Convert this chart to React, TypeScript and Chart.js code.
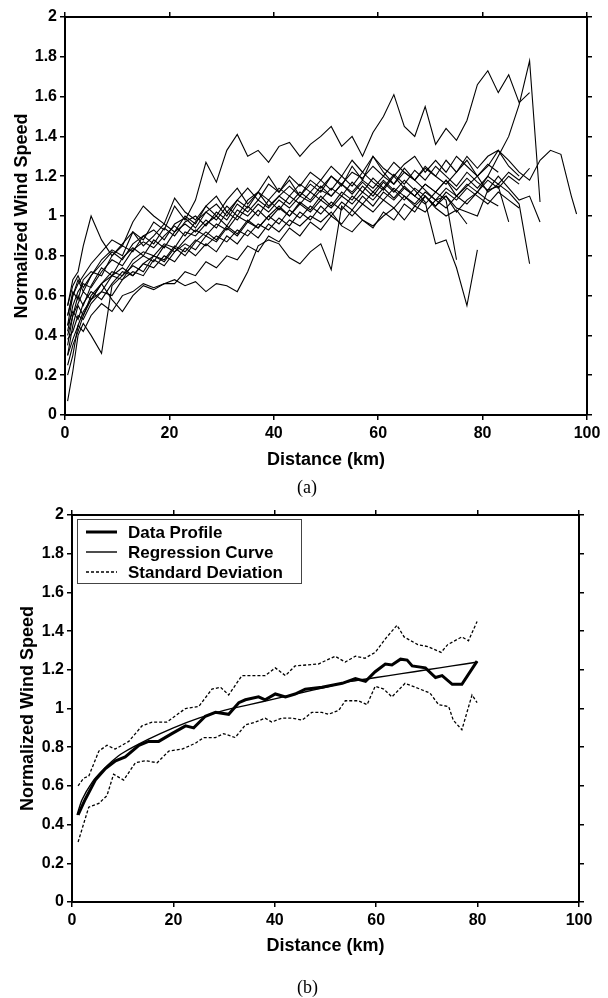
import React, { useEffect, useRef } from "react";
import { Chart, registerables } from "chart.js";

Chart.register(...registerables);

const SANS = "'Liberation Sans', Arial, Helvetica, sans-serif";

// ---------- Panel (a): individual normalized profiles ----------
const KM = [0.5, 1.5, 2.5, 3.5, 5, 7, 9, 11, 13, 15, 17, 19, 21, 23, 25, 27, 29, 31, 33, 35, 37, 39, 41, 43, 45, 47, 49, 51, 53, 55, 57, 59, 61, 63, 65, 67, 69, 71, 73, 75, 77, 79, 81, 83, 85, 87, 89, 91, 93, 95, 97, 98];

const P01 = [0.45, 0.6, 0.68, 0.62, 0.7, 0.78, 0.83, 0.8, 0.92, 0.88, 0.97, 0.93, 1.05, 0.98, 1.08, 1.27, 1.17, 1.33, 1.41, 1.3, 1.33, 1.27, 1.35, 1.37, 1.3, 1.36, 1.4, 1.45, 1.35, 1.4, 1.3, 1.42, 1.5, 1.61, 1.45, 1.4, 1.55, 1.36, 1.44, 1.38, 1.48, 1.66, 1.73, 1.62, 1.71, 1.57, 1.62];
const P02 = [0.3, 0.45, 0.55, 0.5, 0.6, 0.66, 0.72, 0.7, 0.78, 0.82, 0.8, 0.86, 0.84, 0.92, 0.9, 0.96, 1.0, 0.95, 1.03, 1.0, 1.06, 1.02, 1.08, 1.04, 1.1, 1.07, 1.13, 1.1, 1.16, 1.12, 1.18, 1.14, 1.2, 1.16, 1.22, 1.18, 1.13, 1.08, 1.1, 1.02, 1.08, 1.12, 1.2, 1.3, 1.4, 1.56, 1.78, 1.07];
const P03 = [0.42, 0.55, 0.62, 0.66, 0.64, 0.72, 0.78, 0.75, 0.83, 0.87, 0.84, 0.9, 0.95, 0.9, 0.97, 1.02, 0.98, 1.05, 1.0, 1.08, 1.12, 1.05, 1.1, 1.15, 1.1, 1.18, 1.14, 1.2, 1.16, 1.22, 1.19, 1.25, 1.2, 1.27, 1.22, 1.18, 1.24, 1.2, 1.16, 1.22, 1.28, 1.2, 1.25, 1.33, 1.28, 1.22, 1.18, 1.28, 1.33, 1.31, 1.1, 1.01];
const P04 = [0.2, 0.3, 0.45, 0.52, 0.58, 0.62, 0.7, 0.68, 0.76, 0.8, 0.77, 0.85, 0.82, 0.88, 0.93, 0.9, 0.96, 0.93, 1.0, 0.97, 1.03, 0.98, 1.04, 1.0, 1.07, 1.03, 1.1, 1.05, 1.12, 1.08, 1.15, 1.1, 1.17, 1.12, 1.18, 1.13, 1.07, 0.86, 0.88, 0.74, 0.55, 0.83];
const P05 = [0.5, 0.62, 0.58, 0.68, 0.72, 0.7, 0.8, 0.85, 0.82, 0.9, 0.93, 0.88, 0.96, 0.99, 0.94, 1.02, 1.06, 1.0, 1.08, 1.04, 1.12, 1.08, 1.14, 1.1, 1.16, 1.12, 1.18, 1.13, 1.2, 1.15, 1.22, 1.17, 1.13, 1.2, 1.14, 1.1, 1.16, 1.12, 1.18, 1.1, 1.15, 1.2, 1.12, 1.16, 1.12, 1.06, 0.76];
const P06 = [0.35, 0.5, 0.6, 0.55, 0.65, 0.74, 0.7, 0.79, 0.84, 0.8, 0.88, 0.84, 0.92, 0.96, 0.92, 0.98, 0.94, 1.02, 0.98, 1.05, 1.0, 1.08, 1.03, 1.1, 1.06, 1.12, 1.08, 1.14, 1.1, 1.17, 1.12, 1.19, 1.14, 1.21, 1.16, 1.23, 1.18, 1.25, 1.2, 1.15, 1.22, 1.17, 1.13, 1.2, 1.14, 1.08, 1.1, 0.97];
const P07 = [0.55, 0.65, 0.7, 0.64, 0.7, 0.76, 0.82, 0.78, 0.86, 0.9, 0.86, 0.94, 0.9, 0.97, 1.0, 0.95, 1.02, 0.98, 1.06, 1.02, 1.08, 1.04, 1.1, 1.06, 1.12, 1.08, 1.15, 1.1, 1.16, 1.11, 1.17, 1.12, 1.18, 1.13, 1.08, 1.14, 1.1, 1.05, 1.1, 1.04, 1.02, 1.0, 1.13, 1.15, 0.97];
const P08 = [0.38, 0.42, 0.5, 0.48, 0.56, 0.62, 0.6, 0.68, 0.72, 0.7, 0.78, 0.75, 0.82, 0.86, 0.83, 0.9, 0.87, 0.94, 0.9, 0.97, 0.94, 1.0, 0.96, 1.03, 0.99, 1.05, 1.01, 1.07, 1.03, 1.1, 1.06, 1.12, 1.08, 1.14, 1.1, 1.05, 1.1, 1.04, 1.0, 1.03, 0.96];
const P09 = [0.45, 0.52, 0.48, 0.56, 0.62, 0.58, 0.66, 0.72, 0.7, 0.76, 0.8, 0.77, 0.84, 0.8, 0.87, 0.92, 0.88, 0.95, 0.91, 0.98, 0.94, 1.0, 1.05, 1.0, 1.06, 1.02, 1.08, 1.04, 1.1, 1.06, 1.12, 1.08, 1.14, 1.09, 1.15, 1.1, 1.06, 1.12, 1.08, 0.78];
const P10 = [0.3, 0.38, 0.45, 0.42, 0.5, 0.56, 0.52, 0.6, 0.62, 0.66, 0.64, 0.66, 0.68, 0.65, 0.67, 0.62, 0.66, 0.65, 0.62, 0.72, 0.85, 0.88, 0.86, 0.79, 0.76, 0.82, 0.86, 0.73, 1.05, 1.0, 1.06, 1.02, 1.08, 1.04, 1.1, 1.06, 1.12, 1.08, 1.14, 1.1, 1.16, 1.12, 1.18, 1.14, 1.2, 1.16];
const P11 = [0.25, 0.35, 0.42, 0.5, 0.58, 0.66, 0.58, 0.52, 0.6, 0.65, 0.63, 0.66, 0.66, 0.72, 0.7, 0.77, 0.74, 0.8, 0.78, 0.85, 0.82, 0.9, 0.87, 0.94, 0.9, 0.97, 0.93, 1.0, 0.96, 1.03, 0.98, 0.95, 1.0, 1.04, 0.98, 1.05, 1.02, 1.08, 1.04, 1.1, 1.06, 1.12, 1.08, 1.05];
const P12 = [0.07, 0.22, 0.4, 0.46, 0.4, 0.31, 0.65, 0.7, 0.75, 0.72, 0.8, 0.78, 0.85, 0.82, 0.88, 0.85, 0.9, 0.87, 0.93, 0.9, 0.96, 0.93, 0.99, 0.95, 1.02, 0.98, 1.05, 1.0, 1.07, 1.03, 1.1, 1.05, 1.12, 1.08, 1.14, 1.1, 1.16, 1.12, 1.18, 1.13, 1.19, 1.14, 1.2, 1.16, 1.22, 1.18, 1.24];
const P13 = [0.55, 0.68, 0.72, 0.85, 1.0, 0.88, 0.8, 0.86, 0.92, 0.85, 0.9, 0.96, 0.92, 1.0, 0.96, 1.05, 1.1, 1.02, 1.08, 1.14, 1.08, 1.16, 1.12, 1.2, 1.15, 1.22, 1.18, 1.25, 1.2, 1.28, 1.22, 1.3, 1.24, 1.2, 1.26, 1.3, 1.22, 1.28, 1.22, 1.3, 1.25, 1.2, 1.26, 1.22];
const P14 = [0.5, 0.6, 0.66, 0.7, 0.76, 0.82, 0.88, 0.85, 0.97, 1.05, 1.0, 0.96, 1.09, 1.02, 0.98, 1.05, 1.0, 1.08, 1.14, 1.06, 1.12, 1.2, 1.12, 1.18, 1.1, 1.16, 1.12, 1.2, 1.15, 1.25, 1.18, 1.3, 1.22, 1.16, 1.24, 1.18, 1.25, 1.2, 1.28, 1.22, 1.3, 1.24, 1.3, 1.33, 1.25, 1.2];
const P15 = [0.4, 0.5, 0.56, 0.62, 0.58, 0.66, 0.7, 0.74, 0.7, 0.76, 0.74, 0.8, 0.77, 0.84, 0.8, 0.86, 0.82, 0.9, 0.86, 0.93, 0.89, 0.96, 0.92, 0.98, 0.95, 1.0, 0.97, 1.02, 0.95, 0.92, 0.98, 0.94, 1.02, 0.98, 1.06, 1.02, 1.1, 1.05, 1.12, 1.08, 1.14, 1.1, 1.06, 1.12, 1.08, 1.04];

const PROFILES = [P01, P02, P03, P04, P05, P06, P07, P08, P09, P10, P11, P12, P13, P14, P15];

// ---------- Panel (b): mean profile, regression, std deviation ----------
const PROFILE_KM = [1.2, 2.6, 4.6, 6.6, 8.6, 10.5, 13.2, 15.1, 17.1, 19.7, 22.4, 24, 26.3, 28.3, 30.9, 32.9, 34.2, 36.8, 38.1, 40.1, 42.1, 44, 46, 49.3, 51.3, 53.3, 55.9, 57.9, 59.8, 61.8, 63.1, 64.8, 66.1, 67.1, 69.7, 71.7, 73, 75, 76.9, 79.9];
const PROFILE_V = [0.45, 0.53, 0.63, 0.69, 0.73, 0.75, 0.81, 0.83, 0.83, 0.87, 0.91, 0.9, 0.96, 0.98, 0.97, 1.03, 1.045, 1.06, 1.045, 1.075, 1.06, 1.075, 1.1, 1.11, 1.12, 1.13, 1.155, 1.14, 1.19, 1.23, 1.225, 1.255, 1.25, 1.22, 1.21, 1.16, 1.17, 1.125, 1.125, 1.245];

const REG_KM = [1, 2, 4, 6, 8, 10, 15, 20, 25, 30, 35, 40, 45, 50, 55, 60, 65, 70, 75, 80];
const REG_V = [0.45, 0.53, 0.62, 0.68, 0.73, 0.77, 0.84, 0.9, 0.95, 0.99, 1.02, 1.05, 1.08, 1.11, 1.14, 1.16, 1.18, 1.2, 1.22, 1.24];

const SD_UP_KM = [1.2, 2.3, 3.3, 5.3, 6.9, 8.5, 11.2, 13.8, 15.8, 18.7, 22.4, 25, 27.6, 29.3, 30.9, 33.5, 35.5, 38.1, 40.1, 42.1, 44, 48.6, 51.9, 53.9, 55.9, 57.8, 59.8, 61.8, 64.1, 65.5, 68.2, 70.2, 72.8, 74.1, 76.9, 78.2, 79.9];
const SD_UP_V = [0.6, 0.64, 0.65, 0.78, 0.81, 0.79, 0.83, 0.91, 0.93, 0.93, 1.0, 1.01, 1.1, 1.11, 1.07, 1.17, 1.17, 1.17, 1.21, 1.17, 1.22, 1.23, 1.27, 1.24, 1.27, 1.26, 1.29, 1.36, 1.43, 1.37, 1.33, 1.32, 1.29, 1.33, 1.37, 1.35, 1.45];

const SD_LO_KM = [1.2, 3.3, 5.3, 6.9, 8.2, 10.2, 12.5, 14.5, 16.8, 19.1, 21.7, 24.3, 26, 28.3, 29.9, 32.2, 34.2, 36.2, 38.1, 39.4, 41.4, 43.4, 45.4, 47.3, 49.3, 50.6, 52.6, 53.9, 56.5, 58.2, 59.8, 61.5, 63.1, 65.7, 67.7, 70.6, 72.3, 74.3, 75.2, 76.9, 78.9, 79.9];
const SD_LO_V = [0.31, 0.49, 0.51, 0.55, 0.66, 0.63, 0.72, 0.73, 0.72, 0.78, 0.79, 0.82, 0.85, 0.85, 0.87, 0.85, 0.915, 0.93, 0.95, 0.93, 0.95, 0.95, 0.94, 0.98, 0.98, 0.97, 0.99, 1.04, 1.04, 1.02, 1.115, 1.1, 1.06, 1.13, 1.11, 1.08, 1.02, 1.01, 0.94, 0.89, 1.07, 1.03];

const X_TITLE = "Distance (km)";
const Y_TITLE = "Normalized Wind Speed";
const LEGEND_LABELS = ["Data Profile", "Regression Curve", "Standard Deviation"];

const pts = (xs: number[], ys: number[]) => ys.map((y, i) => ({ x: xs[i], y }));

type Frame = { left: number; right: number; top: number; bottom: number; yTitlePad: number; xTitlePad: number };

function frameScales(f: Frame): any {
  const tickFont = { family: SANS, size: 16, weight: "bold" as const };
  const titleFont = { family: SANS, size: 18, weight: "bold" as const, lineHeight: 1.2 };
  const border = { display: true, color: "#000", width: 2 };
  const grid = { display: true, drawOnChartArea: false, drawTicks: true, tickLength: 5, color: "#000", lineWidth: 1.5 };
  return {
    x: {
      type: "linear", position: "bottom", min: 0, max: 100, border, grid,
      ticks: { stepSize: 20, font: tickFont, color: "#000", padding: 4, maxRotation: 0, autoSkip: false },
      title: { display: true, text: X_TITLE, font: titleFont, color: "#000", padding: { top: 0, bottom: f.xTitlePad } },
      afterFit: (s: any) => { s.height = f.bottom; },
    },
    x2: {
      type: "linear", position: "top", min: 0, max: 100, border, grid,
      ticks: { stepSize: 20, display: false },
      afterFit: (s: any) => { s.height = f.top; },
    },
    y: {
      type: "linear", position: "left", min: 0, max: 2, border, grid,
      ticks: { stepSize: 0.2, font: tickFont, color: "#000", padding: 3, autoSkip: false, callback: (v: any) => String(Math.round(Number(v) * 10) / 10) },
      title: { display: true, text: Y_TITLE, font: titleFont, color: "#000", padding: { top: f.yTitlePad, bottom: 0 } },
      afterFit: (s: any) => { s.width = f.left; },
    },
    y2: {
      type: "linear", position: "right", min: 0, max: 2, border, grid,
      ticks: { stepSize: 0.2, display: false },
      afterFit: (s: any) => { s.width = f.right; },
    },
  };
}

const boxLegend = {
  id: "boxLegend",
  afterDraw(chart: any) {
    const { ctx, chartArea } = chart;
    const x0 = chartArea.left + 5;
    const y0 = chartArea.top + 4;
    const w = 224;
    const h = 64;
    ctx.save();
    ctx.fillStyle = "#fff";
    ctx.fillRect(x0, y0, w, h);
    ctx.strokeStyle = "#444";
    ctx.lineWidth = 1;
    ctx.setLineDash([]);
    ctx.strokeRect(x0 + 0.5, y0 + 0.5, w, h);
    const items = chart.data.datasets.filter((d: any) => d.inLegend);
    items.forEach((ds: any, i: number) => {
      const y = y0 + 13 + i * 20;
      ctx.beginPath();
      ctx.setLineDash(ds.borderDash || []);
      ctx.lineWidth = ds.borderWidth;
      ctx.strokeStyle = ds.borderColor;
      ctx.moveTo(x0 + 9, y);
      ctx.lineTo(x0 + 40, y);
      ctx.stroke();
      ctx.setLineDash([]);
      ctx.fillStyle = "#000";
      ctx.font = `bold 17px ${SANS}`;
      ctx.textBaseline = "middle";
      ctx.textAlign = "left";
      ctx.fillText(ds.label, x0 + 51, y + 1);
    });
    ctx.restore();
  },
};

function configA(): any {
  return {
    type: "line",
    data: {
      datasets: PROFILES.map((v, i) => ({
        label: `Profile ${i + 1}`,
        data: pts(KM, v),
        borderColor: "#000",
        borderWidth: 1.1,
        pointRadius: 0,
        tension: 0,
        fill: false,
      })),
    },
    options: {
      responsive: false,
      animation: false,
      devicePixelRatio: 1,
      layout: { padding: { left: 0, right: 0, top: 0, bottom: 23 } },
      plugins: { legend: { display: false }, tooltip: { enabled: false } },
      scales: frameScales({ left: 65, right: 21, top: 17, bottom: 60, yTitlePad: 11.2, xTitlePad: 4.2 }),
    },
  };
}

function configB(): any {
  const dashed = [3, 2];
  return {
    type: "line",
    data: {
      datasets: [
        { label: LEGEND_LABELS[0], inLegend: true, data: pts(PROFILE_KM, PROFILE_V), borderColor: "#000", borderWidth: 3, pointRadius: 0, tension: 0 },
        { label: LEGEND_LABELS[1], inLegend: true, data: pts(REG_KM, REG_V), borderColor: "#000", borderWidth: 1.4, pointRadius: 0, tension: 0.3 },
        { label: LEGEND_LABELS[2], inLegend: true, data: pts(SD_UP_KM, SD_UP_V), borderColor: "#000", borderWidth: 1.3, borderDash: dashed, pointRadius: 0, tension: 0 },
        { label: LEGEND_LABELS[2], inLegend: false, data: pts(SD_LO_KM, SD_LO_V), borderColor: "#000", borderWidth: 1.3, borderDash: dashed, pointRadius: 0, tension: 0 },
      ],
    },
    options: {
      responsive: false,
      animation: false,
      devicePixelRatio: 1,
      layout: { padding: { left: 0, right: 0, top: 0, bottom: 36 } },
      plugins: { legend: { display: false }, tooltip: { enabled: false } },
      scales: frameScales({ left: 72, right: 29, top: 17, bottom: 60, yTitlePad: 17.2, xTitlePad: 5.2 }),
    },
    plugins: [boxLegend],
  };
}

function ChartCanvas({ make, top, height }: { make: () => any; top: number; height: number }) {
  const ref = useRef<HTMLCanvasElement | null>(null);
  useEffect(() => {
    if (!ref.current) return;
    const chart = new Chart(ref.current, make());
    return () => chart.destroy();
  }, []);
  return (
    <canvas
      ref={ref}
      width={608}
      height={height}
      style={{ position: "absolute", left: 0, top, width: 608, height, display: "block" }}
    />
  );
}

const capStyle: React.CSSProperties = {
  position: "absolute",
  left: 297,
  fontFamily: "'Liberation Serif', 'Times New Roman', serif",
  fontSize: 18,
  lineHeight: "18px",
  color: "#000",
};

export default function App() {
  return (
    <div style={{ position: "absolute", left: 0, top: 0, width: 608, height: 998, background: "#fff", overflow: "hidden" }}>
      <ChartCanvas make={configA} top={0} height={498} />
      <ChartCanvas make={configB} top={498} height={500} />
      <div style={{ ...capStyle, top: 478 }}>(a)</div>
      <div style={{ ...capStyle, top: 978 }}>(b)</div>
    </div>
  );
}
